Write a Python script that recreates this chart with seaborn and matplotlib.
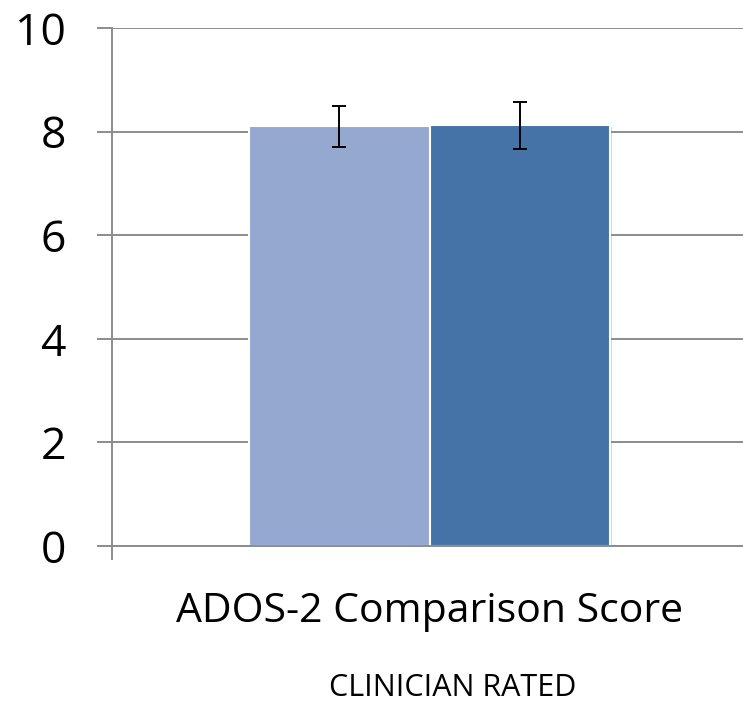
import matplotlib
matplotlib.use("Agg")
import matplotlib.pyplot as plt
import matplotlib.patheffects as pe
import pandas as pd
import seaborn as sns

# values
measures = ["ADOS-2 Comparison Score"]
groups = ["Group 1", "Group 2"]
scores = [8.10, 8.12]
sem = [0.39, 0.46]
colors = ["#94A8D0", "#4573A8"]
y_ticks = [0, 2, 4, 6, 8, 10]
subtitle = "CLINICIAN RATED"

df = pd.DataFrame({
    "measure": [measures[0]] * len(groups),
    "group": groups,
    "score": scores,
})

sns.set_theme(style="white")
plt.rcParams["font.family"] = ["Open Sans", "DejaVu Sans"]
plt.rcParams["text.color"] = "black"

fig = plt.figure(figsize=(7.43, 7.04), dpi=100)
ax = fig.add_axes([112 / 743, 158 / 704, 631 / 743, 518 / 704])

sns.barplot(data=df, x="measure", y="score", hue="group", palette=colors,
            saturation=1, errorbar=None, width=0.8, edgecolor="white",
            linewidth=1.5, legend=False, ax=ax)

# soft shadow round the bars, like the office chart
for bar in ax.patches:
    bar.set_path_effects([pe.SimplePatchShadow(offset=(1.5, -1), shadow_rgbFace="#888888", alpha=0.35),
                          pe.Normal()])

# error bars at the bar centres
xs = [b.get_x() + b.get_width() / 2 for b in ax.patches[:len(scores)]]
ax.errorbar(xs, scores, yerr=sem, fmt="none", ecolor="black",
            elinewidth=1.4, capsize=5, capthick=1.4, zorder=5)

gray = "#8C8C8C"
ax.set_ylim(0, 10)
ax.set_yticks(y_ticks)
ax.set_xlim(-0.704, 0.695)
ax.yaxis.grid(True, color=gray, linewidth=1.4)
ax.set_axisbelow(True)

for s in ["top", "right"]:
    ax.spines[s].set_visible(False)
for s in ["left", "bottom"]:
    ax.spines[s].set_color(gray)
    ax.spines[s].set_linewidth(1.4)

ax.tick_params(axis="y", which="major", left=True, length=11, width=1.4, color=gray,
               pad=22, labelsize=32, labelcolor="black")
ax.tick_params(axis="x", which="major", bottom=False, pad=27, labelsize=29.5, labelcolor="black")
ax.set_xticks([-0.704], minor=True)
ax.tick_params(axis="x", which="minor", bottom=True, length=10, width=1.4, color=gray)

ax.set_xlabel("")
ax.set_ylabel("")

fig.text(453 / 743, 1 - 688 / 704, subtitle, ha="center", va="center",
         fontsize=22, color="black")

fig.savefig("out.png", dpi=100)
